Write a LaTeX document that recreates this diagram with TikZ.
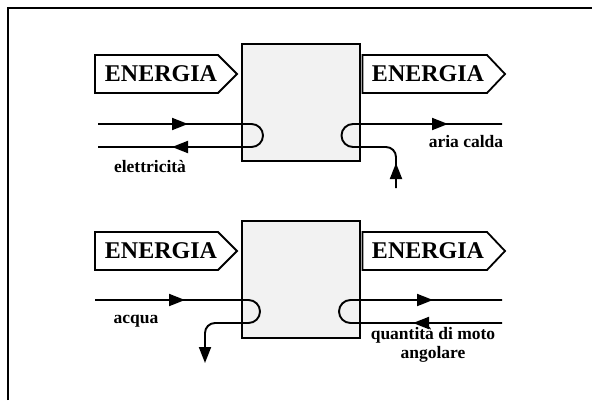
\documentclass[tikz,border=0pt]{standalone}
\usepackage{fontspec}
\setmainfont{Liberation Serif}
\usetikzlibrary{arrows.meta}
\begin{document}
\begin{tikzpicture}[x=1pt,y=-1pt,
  line/.style={line width=1.9pt},
  arr/.style={line width=1.9pt,-{Triangle[length=16pt,width=12pt]}},
  procbox/.style={draw,line width=2pt,fill=black!5,minimum width=118pt,minimum height=117pt,inner sep=0pt},
  energia/.style={draw,line width=1.8pt,fill=white},
  entext/.style={font=\fontsize{24}{24}\selectfont\bfseries,inner sep=0pt},
  lbl/.style={font=\fontsize{17.5}{19}\selectfont\bfseries,inner sep=0pt,align=center}]
\useasboundingbox (0,0) rectangle (592,400);
\draw[line width=2.5pt] (8,400) -- (8,8) -- (592,8);
% ---------- top ----------
\node[procbox] (b1) at (301,102.5) {};
\draw[energia] (95,55) -- (218,55) -- (237,74) -- (218,93) -- (95,93) -- cycle;
\node[entext] (e1) at (161,74) {ENERGIA};
\draw[energia] (362.5,55) -- (487,55) -- (505,74) -- (487,93) -- (362.5,93) -- cycle;
\node[entext] (e2) at (428,74) {ENERGIA};
\coordinate (l1a) at (98,124);
\coordinate (l1b) at (98,147);
\draw[line] (l1a) -- (251.5,124) arc[start angle=-90,end angle=90,radius=11.5] -- (l1b);
\draw[arr] (170,124) -- (188,124);
\draw[arr] (189,147) -- (172,147);
\node[lbl] (t1) at (150,167) {elettricità};
\coordinate (r1a) at (502,124);
\coordinate (r1b) at (396,188);
\draw[line] (r1a) -- (353,124) arc[start angle=-90,end angle=-270,radius=11.5] -- (386,147) arc[start angle=-90,end angle=0,radius=10] -- (r1b);
\draw[arr] (430,124) -- (448,124);
\draw[arr] (396,180) -- (396,163);
\node[lbl] (t2) at (466,142) {aria calda};
% ---------- bottom ----------
\node[procbox] (b2) at (301,279.5) {};
\draw[energia] (95,232) -- (218,232) -- (237,251) -- (218,270) -- (95,270) -- cycle;
\node[entext] (e3) at (161,251) {ENERGIA};
\draw[energia] (362.5,232) -- (487,232) -- (505,251) -- (487,270) -- (362.5,270) -- cycle;
\node[entext] (e4) at (428,251) {ENERGIA};
\coordinate (l2a) at (95,300);
\coordinate (l2b) at (205,363);
\draw[line] (l2a) -- (248.5,300) arc[start angle=-90,end angle=90,radius=11.5] -- (215,323) arc[start angle=-90,end angle=-180,radius=10] -- (205,345);
\draw[arr] (205,344) -- (l2b);
\draw[arr] (167,300) -- (185,300);
\node[lbl] (t3) at (136,321) {acqua};
\coordinate (r2a) at (502,300);
\coordinate (r2b) at (502,323);
\draw[line] (r2a) -- (350.5,300) arc[start angle=-90,end angle=-270,radius=11.5] -- (r2b);
\draw[arr] (415,300) -- (433,300);
\draw[arr] (430,323) -- (413,323);
\node[lbl] (t4) at (433,345) {quantità di moto\\angolare};
\end{tikzpicture}
\end{document}
